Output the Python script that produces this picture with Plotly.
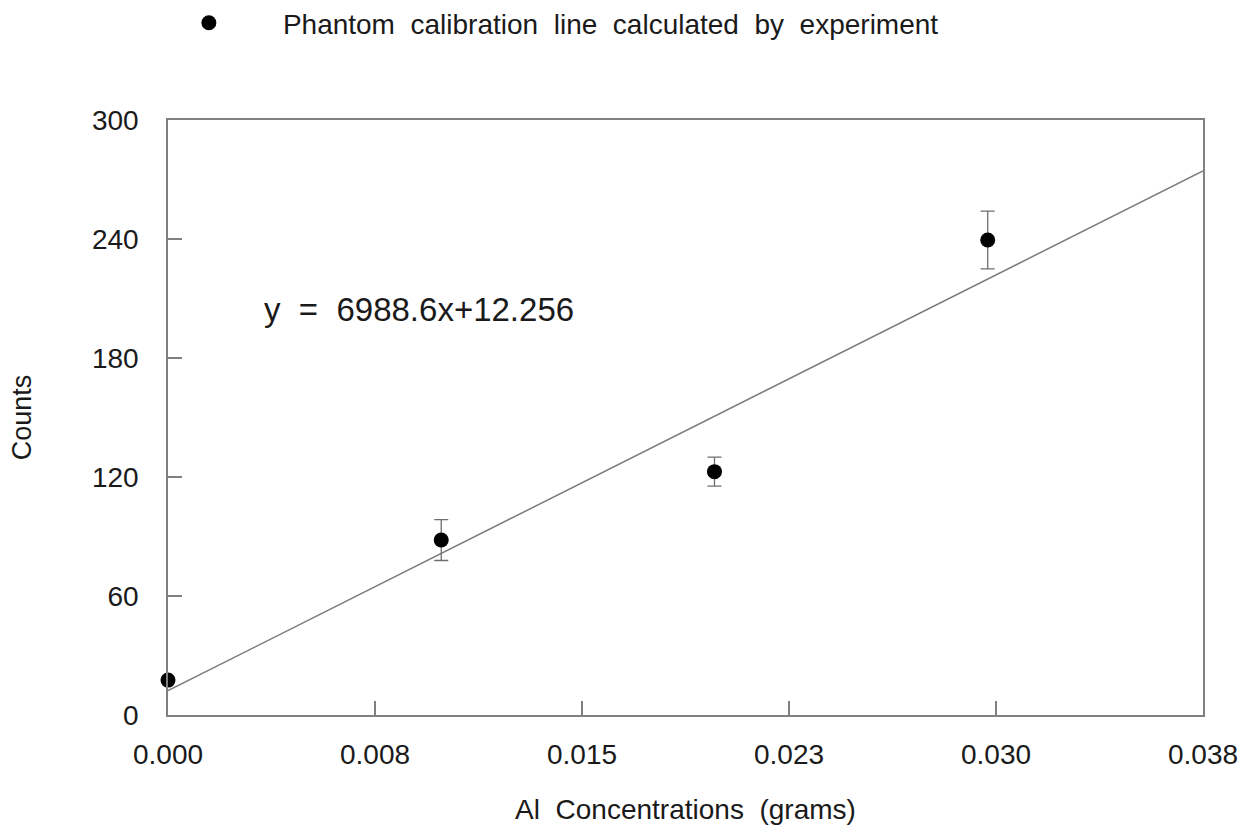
import plotly.graph_objects as go

# Data
conc = [0.0, 0.0099, 0.0198, 0.0297]          # Al concentration (grams)
counts = [17.6, 88.2, 122.7, 239.5]            # Counts
err = [0.0, 10.3, 7.3, 14.6]                   # error bar half-widths
slope, intercept = 6988.6, 12.256              # fitted calibration line
line_x = [0.0, 0.0375]
line_y = [slope * v + intercept for v in line_x]

tick_vals = [0.0, 0.0075, 0.015, 0.0225, 0.03, 0.0375]
tick_text = ["0.000", "0.008", "0.015", "0.023", "0.030", "0.038"]
y_ticks = [0, 60, 120, 180, 240, 300]

FONT = "Liberation Sans, Arial, sans-serif"
TXT = "#1a1a1a"
GRAY = "#808080"

fig = go.Figure()
fig.add_trace(go.Scatter(
    x=line_x, y=line_y, mode="lines",
    line=dict(color="#7a7a7a", width=1.5),
    showlegend=False, hoverinfo="skip",
))
fig.add_trace(go.Scatter(
    x=conc, y=counts, mode="markers",
    name="Phantom  calibration  line  calculated  by  experiment",
    marker=dict(color="black", size=15),
    error_y=dict(type="data", array=err, visible=True,
                 color="#6e6e6e", thickness=1.3, width=7),
    cliponaxis=False,
))

fig.add_annotation(
    x=0.00341, y=204.7, xref="x", yref="y",
    text="y  =  6988.6x+12.256", showarrow=False,
    xanchor="left", yanchor="middle",
    font=dict(family=FONT, size=33, color=TXT),
)

fig.update_layout(
    width=1259, height=829,
    margin=dict(l=168, r=56, t=120, b=114, autoexpand=False),
    paper_bgcolor="white", plot_bgcolor="white",
    font=dict(family=FONT, size=27, color=TXT),
    showlegend=True,
    legend=dict(
        x=-0.032, y=1.163, xanchor="left", yanchor="middle",
        itemwidth=138, bgcolor="rgba(0,0,0,0)",
        font=dict(family=FONT, size=28, color=TXT),
    ),
    xaxis=dict(
        range=[0, 0.0375], tickvals=tick_vals, ticktext=tick_text,
        ticks="inside", ticklen=14, tickcolor=GRAY, tickwidth=1.5,
        showline=True, linecolor=GRAY, linewidth=1.5, mirror=True,
        showgrid=False, zeroline=False, automargin=False,
        tickfont=dict(family=FONT, size=28, color=TXT),
        ticklabelstandoff=14,
        title=dict(text="Al  Concentrations  (grams)", standoff=30,
                   font=dict(family=FONT, size=28, color=TXT)),
    ),
    yaxis=dict(
        range=[0, 300], tickvals=y_ticks,
        ticks="inside", ticklen=14, tickcolor=GRAY, tickwidth=1.5,
        showline=True, linecolor=GRAY, linewidth=1.5, mirror=True,
        showgrid=False, zeroline=False, automargin=False,
        tickfont=dict(family=FONT, size=28, color=TXT),
        ticklabelstandoff=22,
        title=dict(text="Counts", standoff=52,
                   font=dict(family=FONT, size=27, color=TXT)),
    ),
)

fig.write_html("out.html")
